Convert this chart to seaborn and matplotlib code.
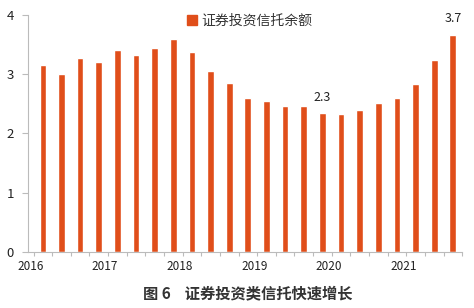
import matplotlib
matplotlib.use("Agg")
import matplotlib.pyplot as plt
import seaborn as sns
import pandas as pd
from matplotlib.patches import Patch

quarters = [f"{y}Q{q}" for y in range(2016, 2022) for q in range(1, 5)][:23]
values = [3.15, 3.00, 3.28, 3.21, 3.41, 3.32, 3.45, 3.59, 3.37, 3.06, 2.85, 2.59,
          2.54, 2.47, 2.47, 2.34, 2.33, 2.39, 2.52, 2.60, 2.83, 3.24, 3.67]
year_labels = ["2016", "2017", "2018", "2019", "2020", "2021"]
annotations = {15: "2.3", 22: "3.7"}
series_name = "证券投资信托余额"
caption = "图 6    证券投资类信托快速增长"

sns.set_theme(style="white")
plt.rcParams['font.family'] = ['Noto Sans CJK SC', 'DejaVu Sans']

df = pd.DataFrame({"季度": quarters, "余额": values})
color = "#E04E1A"

fig = plt.figure(figsize=(4.74, 3.08), dpi=100)
ax = fig.add_axes([0.059, 0.183, 0.916, 0.768])
sns.barplot(data=df, x="季度", y="余额", color=color, width=0.36, ax=ax, saturation=1)

ax.set_ylim(0, 4)
ax.set_xlim(-0.8, 22.4)
ax.set_yticks([0, 1, 2, 3, 4])
ax.set_yticklabels(["0", "1", "2", "3", "4"], fontsize=9.5, color="#222222")
ax.set_xticks([4 * k - 0.66 for k in range(len(year_labels))])
ax.set_xticklabels(year_labels, fontsize=8.5, color="#222222")
ax.set_xticks([i + 0.5 for i in range(-1, 23)], minor=True)
ax.tick_params(axis="x", which="major", length=0, pad=6)
ax.tick_params(axis="x", which="minor", length=3, color="#BBBBBB", width=0.8, direction="out", bottom=True)
ax.tick_params(axis="y", length=4, color="#BBBBBB", width=0.8, left=True, pad=6)
ax.set_xlabel("")
ax.set_ylabel("")
for s in ["top", "right"]:
    ax.spines[s].set_visible(False)
for s in ["left", "bottom"]:
    ax.spines[s].set_color("#BBBBBB")
    ax.spines[s].set_linewidth(0.8)

for i, txt in annotations.items():
    ax.annotate(txt, (i, values[i]), xytext=(0, 7), textcoords="offset points",
                ha="center", va="bottom", fontsize=9, color="#222222")

ax.legend(handles=[Patch(color=color, label=series_name)], loc="upper center",
          bbox_to_anchor=(0.51, 1.045), frameon=False, fontsize=10,
          handlelength=0.7, handleheight=0.7, handletextpad=0.3, borderpad=0.2,
          labelcolor="#333333")

fig.text(0.523, 0.048, caption, ha="center", va="center", fontsize=11,
         fontweight="bold", color="#333333")

fig.savefig("out.png", dpi=100)
